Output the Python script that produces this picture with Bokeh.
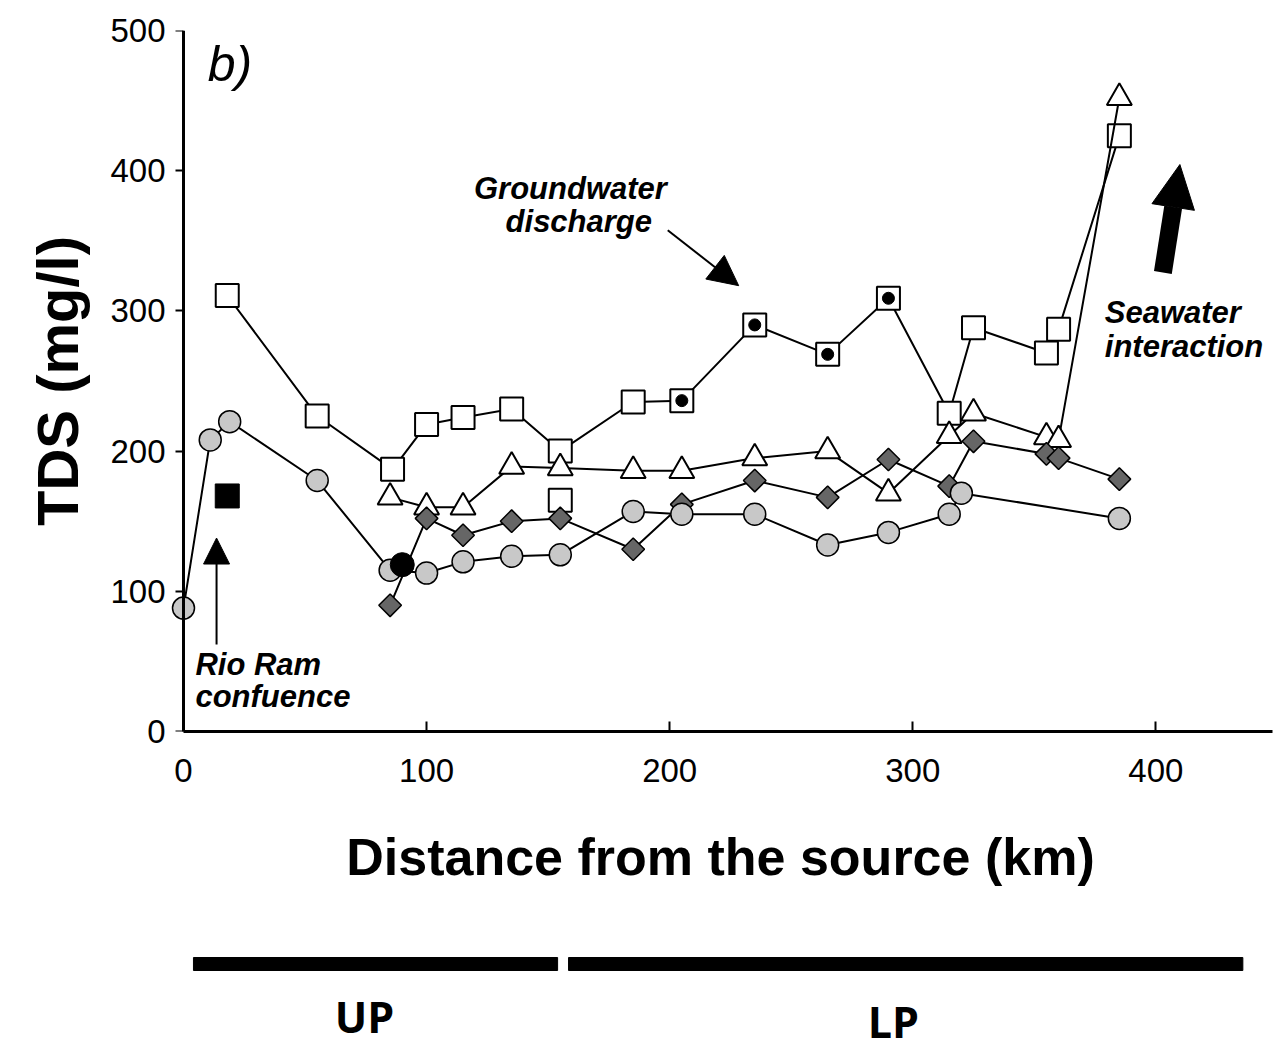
from bokeh.plotting import figure
from bokeh.models import Range1d, FixedTicker, Label, Arrow, NormalHead, LinearAxis
from bokeh.layouts import column
from bokeh.core.properties import value
from bokeh.embed import file_html
from bokeh.resources import INLINE

# ---------------- data ----------------
# open squares
sq_km = [18, 55, 86, 100, 115, 135, 155, 185, 205, 235, 265, 290, 315, 325, 355, 360, 385]
sq_tds = [311, 225, 187, 219, 224, 230, 200, 235, 236, 290, 269, 309, 227, 288, 270, 287, 425]
# squares with groundwater discharge dot
dot_km = [205, 235, 265, 290]
dot_tds = [236, 290, 269, 309]
# isolated open square
iso_km = [155]
iso_tds = [165]
# open triangles
tri_km = [85, 100, 115, 135, 155, 185, 205, 235, 265, 290, 315, 325, 355, 360, 385]
tri_tds = [167, 160, 160, 189, 188, 186, 186, 195, 200, 170, 211, 227, 210, 208, 452]
# dark diamonds
dia_km = [85, 100, 115, 135, 155, 185, 205, 235, 265, 290, 315, 325, 355, 360, 385]
dia_tds = [90, 152, 140, 150, 152, 130, 162, 179, 167, 194, 175, 207, 198, 195, 180]
# light grey circles
cir_km = [0, 11, 19, 55, 85, 100, 115, 135, 155, 185, 205, 235, 265, 290, 315, 320, 385]
cir_tds = [88, 208, 221, 179, 115, 113, 121, 125, 126, 157, 155, 155, 133, 142, 155, 170, 152]
# single black points
bsq_km = [18]
bsq_tds = [168]
bci_km = [90]
bci_tds = [119]

y_ticks = [0, 100, 200, 300, 400, 500]
x_ticks = [0, 100, 200, 300, 400]

seg_names = ["UP", "LP"]
seg_start = [4.1, 158.4]
seg_end = [153.9, 435.8]
seg_label_x = [74.5, 292]

FONT = "Liberation Sans"

xr = Range1d(-6.17, 448)
p = figure(width=1277, height=903, x_range=xr, y_range=Range1d(0, 500),
           output_backend="svg", toolbar_location=None,
           min_border_left=168, min_border_right=5, min_border_top=30,
           min_border_bottom=172)
p.xgrid.visible = False
p.ygrid.visible = False
p.outline_line_color = None
p.background_fill_color = "white"

# y axis for tick labels and title (at frame edge, no rule)
ya = p.yaxis[0]
ya.ticker = FixedTicker(ticks=y_ticks)
ya.axis_line_color = None
ya.major_tick_line_color = None
ya.minor_tick_line_color = None
ya.major_tick_in = 0
ya.major_tick_out = 0
ya.major_label_text_font = FONT
ya.major_label_text_font_size = "33px"
ya.major_label_text_color = "black"
ya.major_label_standoff = 3
ya.axis_label = "TDS (mg/l)"
ya.axis_label_text_font = FONT
ya.axis_label_text_font_style = "bold"
ya.axis_label_text_font_size = "58px"
ya.axis_label_text_color = "black"
ya.axis_label_standoff = 17

# y axis rule and ticks, fixed at x = 0
yr = LinearAxis(fixed_location=0, bounds=(0, 500),
                ticker=FixedTicker(ticks=y_ticks),
                major_label_overrides={t: "" for t in y_ticks},
                minor_tick_line_color=None, major_tick_in=0, major_tick_out=8,
                major_tick_line_width=2, axis_line_width=3,
                major_label_standoff=0)
p.add_layout(yr, "left")

xa = p.xaxis[0]
xa.bounds = (0, 448)
xa.ticker = FixedTicker(ticks=x_ticks)
xa.minor_tick_line_color = None
xa.major_tick_in = 10
xa.major_tick_out = 0
xa.major_tick_line_width = 2
xa.axis_line_width = 3
xa.major_label_text_font = FONT
xa.major_label_text_font_size = "33px"
xa.major_label_text_color = "black"
xa.major_label_standoff = 27
xa.axis_label = "Distance from the source (km)"
xa.axis_label_text_font = FONT
xa.axis_label_text_font_style = "bold"
xa.axis_label_text_font_size = "52px"
xa.axis_label_text_color = "black"
xa.axis_label_standoff = 43

LW = 2
# squares
p.line(sq_km, sq_tds, line_color="black", line_width=LW)
p.scatter(sq_km, sq_tds, marker="square", size=23, fill_color="white",
          line_color="black", line_width=2)
p.scatter(iso_km, iso_tds, marker="square", size=23, fill_color="white",
          line_color="black", line_width=2)
p.scatter(dot_km, dot_tds, marker="circle", size=12, fill_color="black",
          line_color="black")
# triangles
p.line(tri_km, tri_tds, line_color="black", line_width=LW)
p.scatter(tri_km, tri_tds, marker="triangle", size=25, fill_color="white",
          line_color="black", line_width=2)
# diamonds
p.line(dia_km, dia_tds, line_color="black", line_width=LW)
p.scatter(dia_km, dia_tds, marker="square", angle=0.7853981634, size=16,
          fill_color="#666666", line_color="black", line_width=1.5)
# circles
p.line(cir_km, cir_tds, line_color="black", line_width=LW)
p.scatter(cir_km, cir_tds, marker="circle", size=22, fill_color="#c8c8c8",
          line_color="black", line_width=1.5)
# black points
p.scatter(bsq_km, bsq_tds, marker="square", size=24, fill_color="black",
          line_color="black")
p.scatter(bci_km, bci_tds, marker="circle", size=24, fill_color="black",
          line_color="black")

# annotations
def lab(x, y, t, size="31px", style="bold italic", align="left", base="alphabetic"):
    p.add_layout(Label(x=x, y=y, text=t, text_font=FONT, text_font_size=size,
                       text_font_style=style, text_align=align,
                       text_baseline=base, text_color="black"))

lab(10, 476, "b)", size="50px", style="italic")
lab(119.5, 387, "Groundwater")
lab(132.5, 364, "discharge")
lab(379, 299, "Seawater")
lab(379, 274.5, "interaction")
lab(4.9, 48, "Rio Ram")
lab(4.9, 25, "confuence")

p.add_layout(Arrow(x_start=199.2, y_start=357.5, x_end=228.4, y_end=318,
                   line_width=2, line_color="black",
                   end=NormalHead(size=30, fill_color="black", line_color="black")))
p.add_layout(Arrow(x_start=13.6, y_start=62, x_end=13.6, y_end=138,
                   line_width=2, line_color="black",
                   end=NormalHead(size=26, fill_color="black", line_color="black")))
p.add_layout(Arrow(x_start=402.9, y_start=327.4, x_end=409.9, y_end=404.4,
                   line_width=18, line_color="black",
                   end=NormalHead(size=43, fill_color="black", line_color="black")))

# ---------------- bottom segment bars ----------------
q = figure(width=1277, height=150, x_range=xr, y_range=Range1d(0, 150),
           output_backend="svg", toolbar_location=None,
           x_axis_type=None, y_axis_type=None,
           min_border_left=168, min_border_right=5, min_border_top=0,
           min_border_bottom=0)
q.xgrid.visible = False
q.ygrid.visible = False
q.outline_line_color = None
q.hbar(y=[89.5, 89.5], left=seg_start, right=seg_end, height=13,
       fill_color="black", line_color="black")
q.text(x=seg_label_x, y=[37, 32], text=seg_names,
       text_font=value("Open Sans"), text_font_style="bold",
       text_font_size="43px", text_align="center", text_baseline="middle",
       text_color="black")

layout = column(p, q, spacing=0)
open("out.html", "w").write(file_html(layout, INLINE))
